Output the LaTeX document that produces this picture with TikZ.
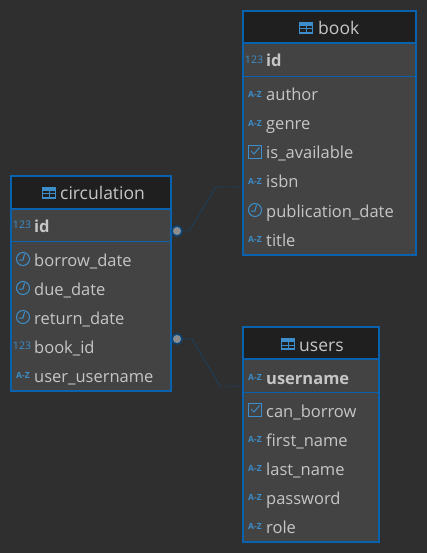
\documentclass[tikz,border=0pt]{standalone}
\usepackage{fontspec}
\setmainfont{Open Sans}
\definecolor{canvas}{HTML}{2F2F2F}
\definecolor{headbg}{HTML}{1F1F1F}
\definecolor{bodybg}{HTML}{434343}
\definecolor{edge}{HTML}{0A62AE}
\definecolor{relblue}{HTML}{0F4C7F}
\definecolor{glyph}{HTML}{3C8DC9}
\definecolor{label}{HTML}{C6C6C6}
\tikzset{
  tablebox/.style={draw=edge,line width=2pt,fill=bodybg,inner sep=0pt,outer sep=0pt,anchor=north west},
  headbox/.style={draw=edge,line width=1.5pt,fill=headbg,inner sep=0pt,outer sep=0pt,anchor=north west},
  coltext/.style={anchor=base west,inner sep=0pt,text=label,font=\fontsize{16.5}{18}\selectfont},
  keytext/.style={coltext,font=\fontsize{16.5}{18}\selectfont\bfseries},
  headtext/.style={anchor=base west,inner sep=0pt,text=label,font=\fontsize{17.5}{19}\selectfont},
  typetext/.style={inner sep=0pt,text=glyph,font=\fontsize{10.5}{11}\selectfont},
  glyphline/.style={draw=glyph,line width=1pt},
  reltn/.style={draw=relblue,line width=0.9pt,densely dotted},
  reldot/.style={circle,draw=edge!70!black,line width=1.5pt,fill=gray!90,inner sep=0pt,minimum size=10pt},
}
% column type icons, #1 = x and #2 = y of the icon centre
\newcommand{\iconaz}[2]{\node[typetext,font=\fontsize{8.5}{10}\selectfont\bfseries] at (#1,#2) {A-Z};}
\newcommand{\iconnum}[2]{\node[typetext] at (#1,#2) {123};}
\newcommand{\iconclock}[2]{\draw[glyphline] (#1,#2) circle (6.5pt);
  \draw[glyphline] (#1+1.5,#2-5) -- (#1,#2+1) -- (#1-4,#2+1);}
\newcommand{\iconcheck}[2]{\draw[glyphline] (#1-6.5,#2-6.5) rectangle (#1+6.5,#2+6.5);
  \draw[glyphline] (#1-4,#2-1) -- (#1-1,#2+2) -- (#1+4.5,#2-4.5);}
\newcommand{\icontable}[2]{\draw[glyphline,line width=1.2pt] (#1-6.5,#2-5) rectangle (#1+6.5,#2+5);
  \fill[glyph] (#1-6.5,#2-5) rectangle (#1+6.5,#2-2);
  \draw[glyphline] (#1-6.5,#2+1) -- (#1+6.5,#2+1) (#1,#2-2) -- (#1,#2+5);}
\begin{document}
\begin{tikzpicture}[x=1pt,y=-1pt]
\fill[canvas] (0,0) rectangle (427,553);
\useasboundingbox (0,0) rectangle (427,553);

% book
\node[tablebox,minimum width=173pt,minimum height=244pt] (book) at (243,11) {};
\node[headbox,minimum width=173pt,minimum height=32pt] (bookhead) at (243,11) {};
\draw[edge,line width=0.8pt] (243,76) -- (416,76);
\icontable{306}{28}
\node[headtext] (booktitle) at (318,35) {book};
\iconnum{254}{60}
\node[keytext] (bookid) at (266,67) {id};
\iconaz{255}{94}
\node[coltext] (bookauthor) at (266,101) {author};
\iconaz{255}{123}
\node[coltext] (bookgenre) at (266,130) {genre};
\iconcheck{255}{152}
\node[coltext] (bookavail) at (266,159) {is\_available};
\iconaz{255}{181}
\node[coltext] (bookisbn) at (266,188) {isbn};
\iconclock{255}{210}
\node[coltext] (bookdate) at (266,217) {publication\_date};
\iconaz{255}{239}
\node[coltext] (booktitlecol) at (266,246) {title};

% circulation
\node[tablebox,minimum width=160pt,minimum height=215pt] (circ) at (11,176) {};
\node[headbox,minimum width=160pt,minimum height=33pt] (circhead) at (11,176) {};
\draw[edge,line width=0.8pt] (11,241) -- (171,241);
\icontable{49}{193}
\node[headtext] (circtitle) at (60,200) {circulation};
\iconnum{22}{225}
\node[keytext] (circid) at (34,232) {id};
\iconclock{23}{259}
\node[coltext] (circborrow) at (34,266) {borrow\_date};
\iconclock{23}{288}
\node[coltext] (circdue) at (34,295) {due\_date};
\iconclock{23}{317}
\node[coltext] (circreturn) at (34,324) {return\_date};
\iconnum{22}{346}
\node[coltext] (circbook) at (34,353) {book\_id};
\iconaz{23}{375}
\node[coltext] (circuser) at (34,382) {user\_username};

% users
\node[tablebox,minimum width=136pt,minimum height=215pt] (users) at (243,327) {};
\node[headbox,minimum width=136pt,minimum height=32pt] (usershead) at (243,327) {};
\draw[edge,line width=0.8pt] (243,392) -- (379,392);
\icontable{288}{344}
\node[headtext] (userstitle) at (299,351) {users};
\iconaz{255}{377}
\node[keytext] (usersname) at (266,384) {username};
\iconcheck{255}{410}
\node[coltext] (usersborrow) at (266,417) {can\_borrow};
\iconaz{255}{439}
\node[coltext] (usersfirst) at (266,446) {first\_name};
\iconaz{255}{468}
\node[coltext] (userslast) at (266,475) {last\_name};
\iconaz{255}{497}
\node[coltext] (userspass) at (266,504) {password};
\iconaz{255}{526}
\node[coltext] (usersrole) at (266,533) {role};

% relations
\node[reldot] (dotbook) at (177,231) {};
\node[reldot] (dotusers) at (177,339) {};
\coordinate (bookend) at (242,187);
\coordinate (usersend) at (242,386);
\draw[reltn] (dotbook) -- (189,231) -- (216,187) -- (bookend);
\draw[reltn] (dotusers) -- (192,339) -- (220,386) -- (usersend);
\end{tikzpicture}
\end{document}
